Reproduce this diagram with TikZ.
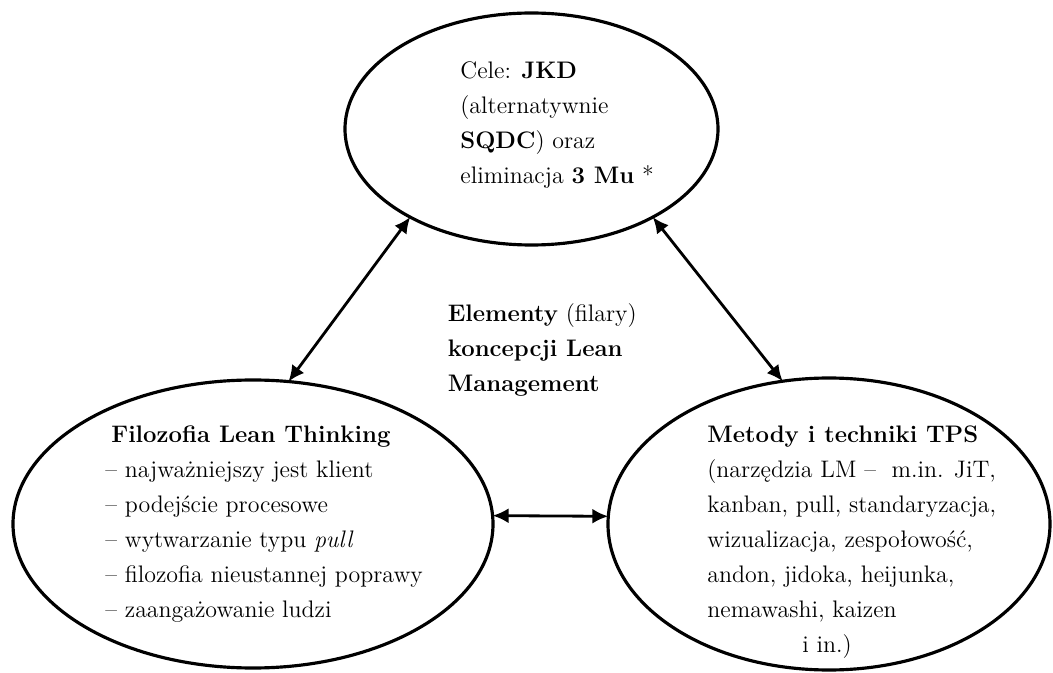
\documentclass[tikz,border=0pt]{standalone}
\usetikzlibrary{shapes.geometric, arrows.meta, positioning}

\begin{document}
\begin{tikzpicture}[
  krag/.style={ellipse, draw, line width=1.8pt, inner sep=0pt, outer sep=0pt},
  opis/.style={anchor=north west, align=left, inner sep=0pt, font=\fontsize{13.6}{19.9}\selectfont},
  strz/.style={<->, >={Latex[length=3.2mm,width=3mm]}, line width=1.6pt}]
\useasboundingbox (0,0) rectangle (21.06,13.44);
% trzy filary
\node[krag, minimum width=7.46cm, minimum height=4.64cm] (cele) at (10.63,10.86) {};
\node[krag, minimum width=9.6cm, minimum height=5.76cm] (filozofia) at (5.06,2.96) {};
\node[krag, minimum width=8.84cm, minimum height=5.84cm] (metody) at (16.58,2.96) {};
% opisy
\node[opis] (celetxt) at (9.2,12.21) {Cele: \textbf{JKD}\\(alternatywnie\\\textbf{SQDC}) oraz\\eliminacja \textbf{3 Mu} *};
\node[opis] (tytul) at (8.95,7.38) {\textbf{Elementy} (filary)\\\textbf{koncepcji Lean}\\\textbf{Management}};
\node[opis] (filotxt) at (2.1,4.93) {\hspace*{1.2mm}\textbf{Filozofia Lean Thinking}\\-- najważniejszy jest klient\\-- podejście procesowe\\-- wytwarzanie typu \textit{pull}\\-- filozofia nieustannej poprawy\\-- zaangażowanie ludzi};
\node[opis] (metotxt) at (14.14,4.93) {\textbf{Metody i techniki TPS}\\(narzędzia LM --\ \ m.in. JiT,\\kanban, pull, standaryzacja,\\wizualizacja, zespołowość,\\andon, jidoka, heijunka,\\nemawashi, kaizen\\\hspace*{1.9cm}i in.)};
% powiazania
\draw[strz] (filozofia.76.9) -- (cele.216.2);
\draw[strz] (cele.324.2) -- (metody.108.2);
\draw[strz] (filozofia.2) -- (metody.178);
\end{tikzpicture}
\end{document}
